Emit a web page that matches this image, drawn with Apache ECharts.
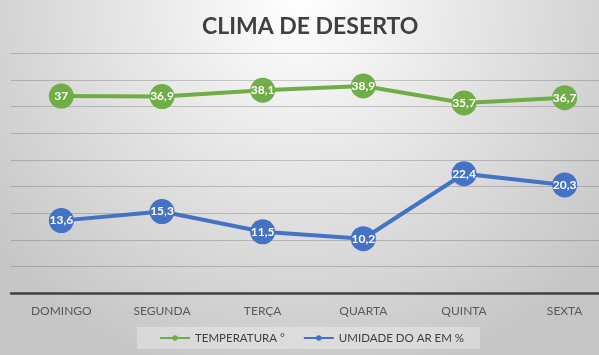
<!DOCTYPE html>
<html><head><meta charset="utf-8">
<script src="https://cdn.jsdelivr.net/npm/echarts@6/dist/echarts.min.js"></script>
<style>html,body{margin:0;padding:0;}#c{width:599px;height:355px;}</style>
</head><body><div id="c"></div>
<script>
const titleText = 'CLIMA DE DESERTO';
const categories = ['DOMINGO', 'SEGUNDA', 'TERÇA', 'QUARTA', 'QUINTA', 'SEXTA'];
const temperatura = [37, 36.9, 38.1, 38.9, 35.7, 36.7];
const umidade = [13.6, 15.3, 11.5, 10.2, 22.4, 20.3];
const seriesNames = ['TEMPERATURA °', 'UMIDADE DO AR EM %'];
const colors = ['#70AD47', '#4472C4'];

const chart = echarts.init(document.getElementById('c'), null, {renderer: 'canvas'});
const fmt = p => String(p.value).replace('.', ',');
function mk(name, data, color) {
  return {
    name, type: 'line', data, color,
    symbol: 'circle', symbolSize: 25,
    lineStyle: {width: 4, color},
    itemStyle: {color},
    label: {show: true, position: 'inside', formatter: fmt, color: '#fff',
      fontFamily: 'Lato', fontWeight: 'bold', fontSize: 12},
    emphasis: {disabled: true},
    animation: false
  };
}
chart.setOption({
  backgroundColor: {
    type: 'radial', x: 0.5, y: 0, r: 1.1,
    colorStops: [{offset: 0, color: '#ffffff'}, {offset: 1, color: '#c6c6c6'}]
  },
  title: {text: titleText, left: 197, top: 10,
    textStyle: {fontFamily: 'Lato', fontWeight: 'bold', fontSize: 23, color: '#404040'}},
  legend: {
    left: 137, top: 327, padding: [5, 16, 5, 22], itemGap: 18,
    backgroundColor: 'rgba(255,255,255,0.3)',
    itemWidth: 30, itemHeight: 7,
    textStyle: {fontFamily: 'Lato', fontSize: 11.5, color: '#404040'},
    data: seriesNames
  },
  grid: {left: 11, width: 604, top: 53.5, height: 239.5, containLabel: false, outerBoundsMode: 'none'},
  xAxis: {type: 'category', data: categories, boundaryGap: true,
    axisLine: {lineStyle: {color: '#404040', width: 2.5}},
    axisTick: {show: false},
    axisLabel: {fontFamily: 'Lato', fontSize: 12, color: '#595959', margin: 12}},
  yAxis: {type: 'value', min: 0, max: 45, interval: 5,
    axisLabel: {show: false}, axisLine: {show: false}, axisTick: {show: false},
    splitLine: {lineStyle: {color: 'rgba(0,0,0,0.18)', width: 1}}},
  series: [mk(seriesNames[0], temperatura, colors[0]), mk(seriesNames[1], umidade, colors[1])]
});
</script></body></html>
